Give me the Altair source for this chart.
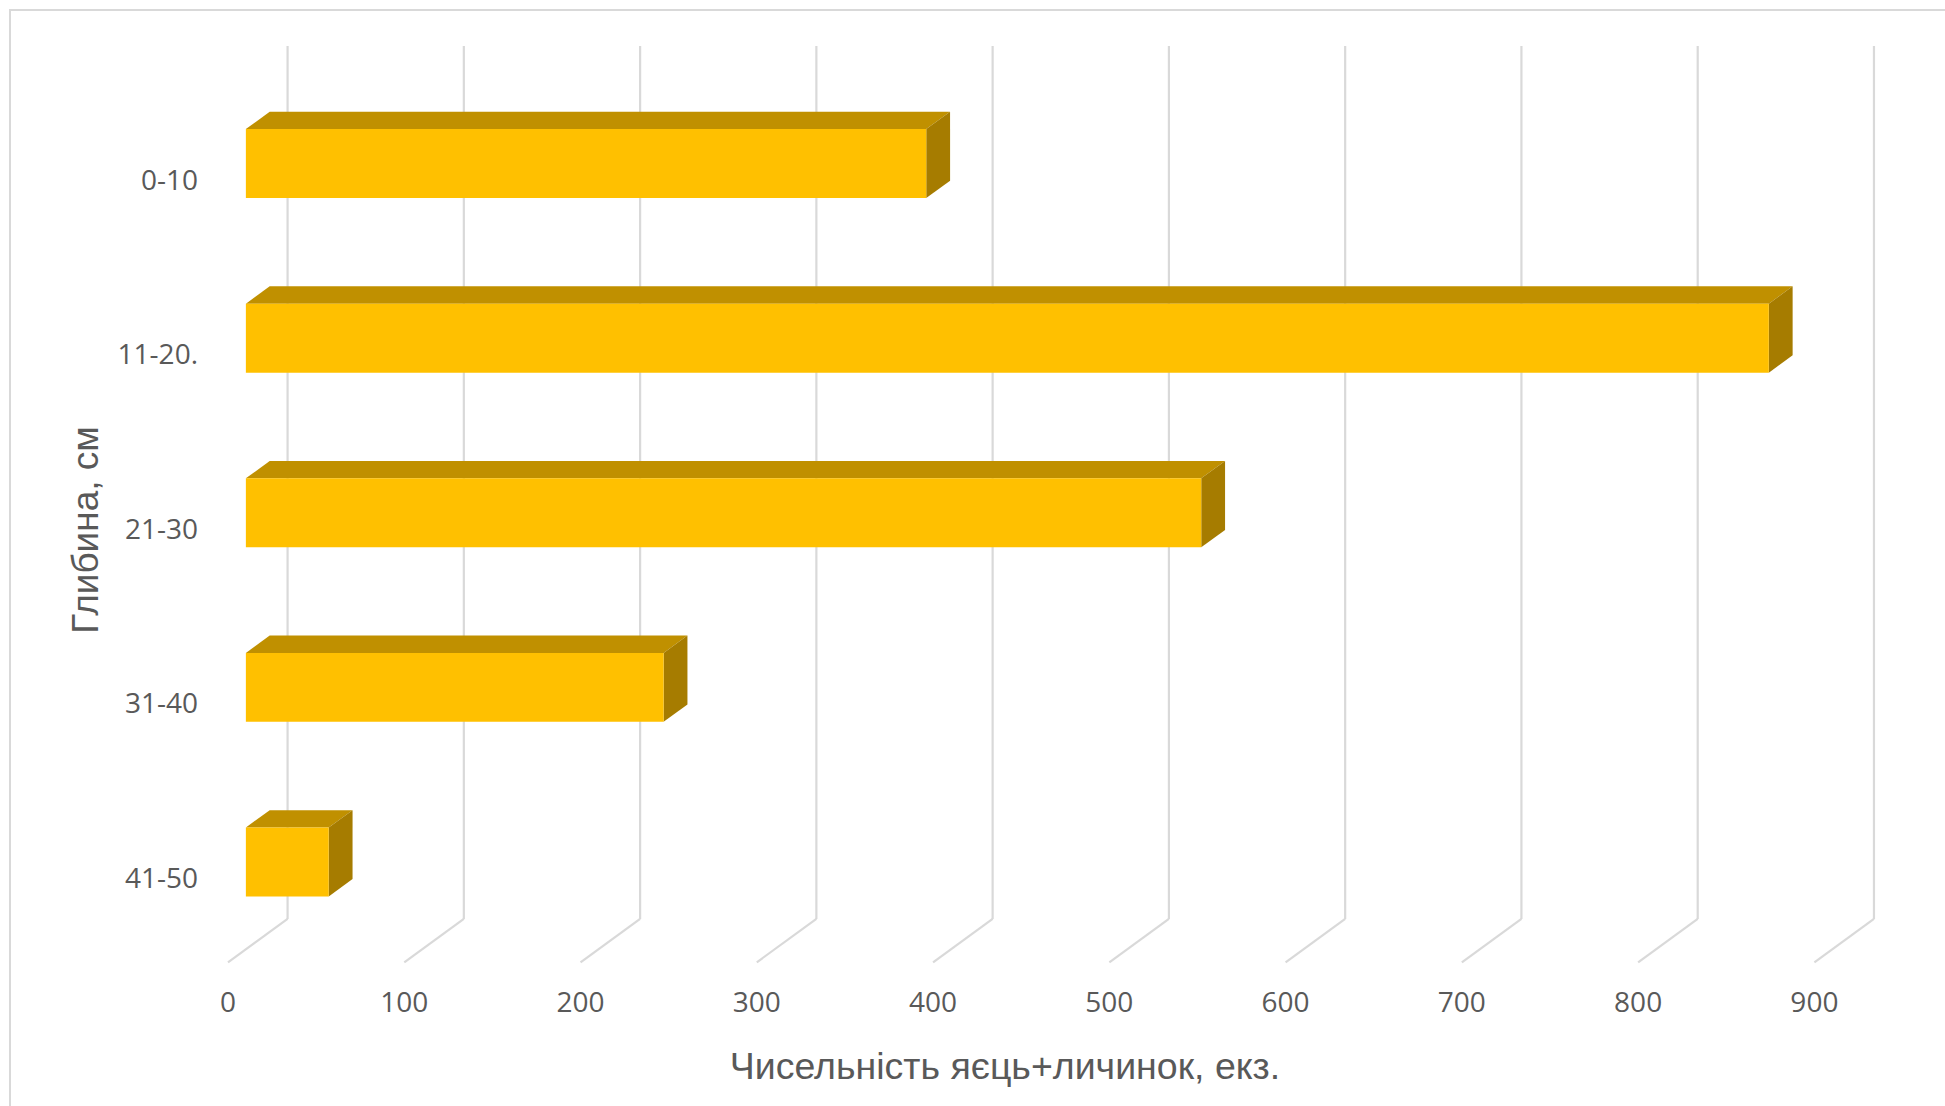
import altair as alt
import pandas as pd

# Depth layers (cm) and number of eggs + larvae found in each
depths = ["0-10", "11-20.", "21-30", "31-40", "41-50"]
counts = [386, 864, 542, 237, 47]
x_ticks = [0, 100, 200, 300, 400, 500, 600, 700, 800, 900]

x_title = "Чисельність яєць+личинок, екз."
y_title = "Глибина, см"

W, H = 1945, 1106

# Oblique 3-D projection: offset of the back wall from the front edge
DEPTH_X = 33.8       # in value units
DEPTH_Y = -0.2486    # in category units
BAR_FRONT = 0.30     # depth fraction of a bar's front face
BAR_BACK = 0.70      # depth fraction of a bar's back face
BAR_H = 0.395        # bar thickness in category units

X_DOMAIN = [-129.35, 974.1]
Y_DOMAIN = [-0.5115, 5.823]

FRONT_COL = "#FFC000"
TOP_COL = "#C09000"
SIDE_COL = "#A67C00"
GRID_COL = "#D9D9D9"
TEXT_COL = "#595959"

xs = alt.Scale(domain=X_DOMAIN, nice=False, zero=False)
ys = alt.Scale(domain=Y_DOMAIN, nice=False, zero=False, reverse=True)


def X(field):
    return alt.X(field, type="quantitative", scale=xs, axis=None)


def Y(field):
    return alt.Y(field, type="quantitative", scale=ys, axis=None)


# ---- bar geometry ----
front_rows, top_rows, side_rows = [], [], []
for i, (d, v) in enumerate(zip(depths, counts)):
    c = i + 0.5
    top = c - BAR_H / 2
    bot = c + BAR_H / 2
    front_rows.append(dict(cat=d, value=v,
                           x=BAR_FRONT * DEPTH_X, x2=v + BAR_FRONT * DEPTH_X,
                           y=top + BAR_FRONT * DEPTH_Y, y2=bot + BAR_FRONT * DEPTH_Y))
    for f in (BAR_FRONT, BAR_BACK):
        top_rows.append(dict(cat=d, y=top + f * DEPTH_Y,
                             x=f * DEPTH_X, x2=v + f * DEPTH_X))
        side_rows.append(dict(cat=d, x=v + f * DEPTH_X,
                              y=bot + f * DEPTH_Y, y2=top + f * DEPTH_Y))

front_df = pd.DataFrame(front_rows)
top_df = pd.DataFrame(top_rows)
side_df = pd.DataFrame(side_rows)

# ---- walls / grid ----
grid_df = pd.DataFrame({
    "t": x_ticks,
    "xb": [t + DEPTH_X for t in x_ticks],
    "ytop": [0 + DEPTH_Y] * len(x_ticks),
    "ybot": [len(depths) + DEPTH_Y] * len(x_ticks),
    "yfront": [len(depths)] * len(x_ticks),
})

cat_df = pd.DataFrame({"cat": depths, "c": [i + 0.5 for i in range(len(depths))]})

back_grid = alt.Chart(grid_df).mark_rule(color=GRID_COL, strokeWidth=2.2).encode(
    x=X("xb"), y=Y("ytop"), y2="ybot"
)
floor_grid = alt.Chart(grid_df).mark_rule(color=GRID_COL, strokeWidth=2.2).encode(
    x=X("xb"), y=Y("ybot"), x2="t", y2="yfront"
)

front_face = alt.Chart(front_df).mark_rect(color=FRONT_COL).encode(
    x=X("x"), x2="x2", y=Y("y"), y2="y2"
)
top_face = alt.Chart(top_df).mark_area(orient="horizontal", color=TOP_COL).encode(
    y=Y("y"), x=X("x"), x2="x2", detail="cat:N"
)
side_face = alt.Chart(side_df).mark_area(orient="vertical", color=SIDE_COL).encode(
    x=X("x"), y=Y("y"), y2="y2", detail="cat:N"
)

tick_labels = alt.Chart(grid_df).mark_text(
    font="Open Sans", fontSize=28, color=TEXT_COL, align="center", baseline="middle"
).encode(x=X("t"), y=alt.value(1004), text=alt.Text("t:Q", format="d"))

cat_labels = alt.Chart(cat_df).mark_text(
    font="Open Sans", fontSize=28, color=TEXT_COL, align="right", baseline="middle", dy=5
).encode(x=alt.value(198), y=Y("c"), text="cat:N")

one = pd.DataFrame({"k": [0]})
x_label = alt.Chart(one).mark_text(
    text=x_title, font="Liberation Sans", fontSize=37.5, color=TEXT_COL,
    align="center", baseline="middle"
).encode(x=alt.value(1005), y=alt.value(1068))
y_label = alt.Chart(one).mark_text(
    text=y_title, font="Liberation Sans", fontSize=37, color=TEXT_COL,
    align="center", baseline="middle", angle=270
).encode(x=alt.value(87), y=alt.value(530))

frame = alt.Chart(one).mark_rect(fillOpacity=0, stroke=GRID_COL, strokeWidth=2).encode(
    x=alt.value(10), x2=alt.value(W + 20), y=alt.value(10), y2=alt.value(H + 20)
)

chart = alt.layer(
    frame, back_grid, floor_grid, top_face, side_face, front_face,
    tick_labels, cat_labels, x_label, y_label
).properties(
    width=W, height=H, padding=0, autosize=alt.AutoSizeParams(type="none"),
    background="white"
).configure_view(stroke=None)

chart.save("out.html", embed_options={"renderer": "svg", "actions": False})
